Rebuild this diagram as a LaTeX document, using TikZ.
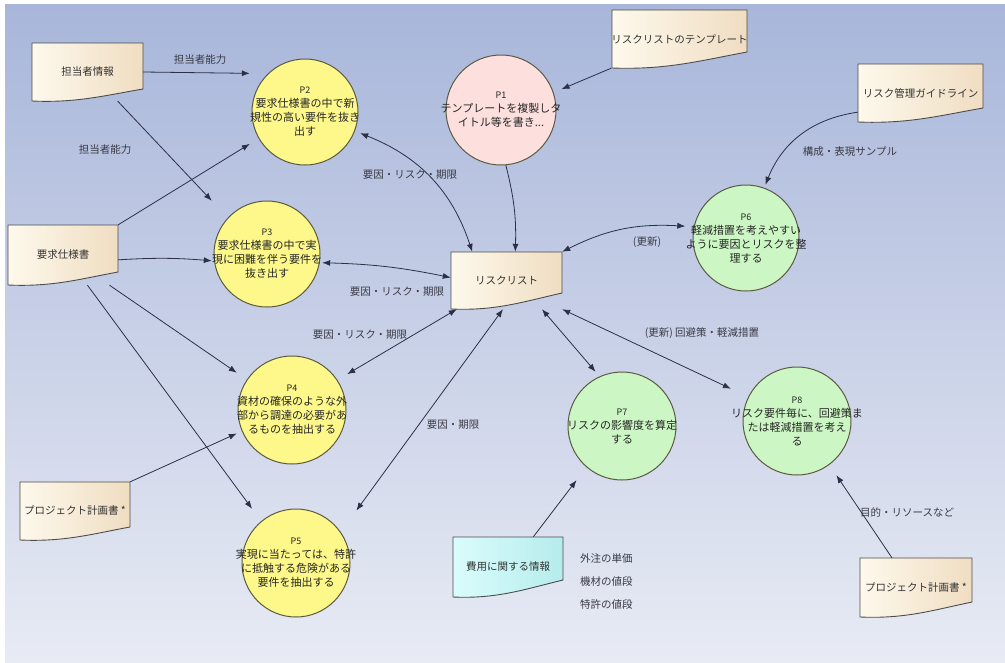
\documentclass[tikz,border=0pt]{standalone}
\usepackage{fontspec}
\setmainfont{Noto Sans CJK JP}
\usetikzlibrary{arrows.meta,calc}
\definecolor{bgtop}{HTML}{A8B6DA}
\definecolor{bgmid}{HTML}{C9D1E9}
\definecolor{bgbot}{HTML}{E8EBF4}
\definecolor{yel}{HTML}{FDF889}
\definecolor{pinkf}{HTML}{FDE0DD}
\definecolor{grn}{HTML}{CCF7C4}
\definecolor{docL}{HTML}{FDF9EC}
\definecolor{docR}{HTML}{F0DDC2}
\definecolor{cyL}{HTML}{DAFCFC}
\definecolor{cyR}{HTML}{B6ECEC}
\definecolor{edgec}{HTML}{2B3048}
\definecolor{lbl}{HTML}{3A3A44}
\definecolor{cborder}{HTML}{5A5A40}
\tikzset{
  con/.style={draw=edgec, line width=0.8pt, -{Latex[length=8pt,width=6pt]}},
  bicon/.style={draw=edgec, line width=0.8pt, {Latex[length=8pt,width=6pt]}-{Latex[length=8pt,width=6pt]}},
  lab/.style={text=lbl, font=\fontsize{10.5}{12}\selectfont, inner sep=1pt},
  procbox/.style={rectangle, inner sep=0pt, minimum size=#1, align=center, text=black!85, font=\fontsize{11}{14}\selectfont},
  docbox/.style={rectangle, inner sep=0pt, text=black!80, font=\fontsize{10.5}{12}\selectfont},
  docline/.style={draw=black!70, line width=0.9pt},
  circ/.style={draw=cborder, line width=1pt},
}
\newcommand\procnode[6]{%
  \draw[circ, fill=#5] (#2,#3) circle[radius=#4pt];
  \node[procbox={2*#4}] (#1) at (#2,#3) {#6};
}
\newcommand\docnode[9]{%
  \draw[docline, left color=#7, right color=#8] (#2,#3) -- (#4,#3) -- (#4,#6)
    .. controls ({#4-0.35*(#4-#2)},{#6+0.55*(#5-#6)}) and ({#2+0.4*(#4-#2)},{#5+2}) .. (#2,#5) -- cycle;
  \node[docbox, minimum width={#4-#2}, minimum height={#5-#3}] (#1) at ({(#2+#4)/2},{(#3+#5)/2}) {#9};
}
\newcommand\pl[1]{{\fontsize{9}{11}\selectfont #1}}
\begin{document}
\begin{tikzpicture}[x=1pt,y=-1pt]
\useasboundingbox (0,0) rectangle (1005,662);
\fill[white] (0,0) rectangle (1005,662);
\shade[top color=bgtop, middle color=bgmid, bottom color=bgbot] (5,4) rectangle (1005,662);

% documents
\docnode{tanto}{32}{43}{143}{101}{89}{docL}{docR}{担当者情報}
\docnode{yokyu}{8}{225}{118}{285}{272}{docL}{docR}{要求仕様書}
\docnode{pjL}{20}{482}{130}{540}{527}{docL}{docR}{プロジェクト計画書 *}
\docnode{rl}{451}{252}{562}{309}{293}{docL}{docR}{リスクリスト}
\docnode{tmpl}{612}{10}{747}{68}{52}{docL}{docR}{リスクリストのテンプレート}
\docnode{guide}{858}{64}{983}{122}{108}{docL}{docR}{リスク管理ガイドライン}
\docnode{hiyo}{453}{537}{563}{597}{580}{cyL}{cyR}{費用に関する情報}
\docnode{pjR}{860}{558}{972}{617}{602}{docL}{docR}{プロジェクト計画書 *}

% processes
\procnode{P1}{501}{110}{55}{pinkf}{\pl{P1}\\テンプレートを複製しタ\\イトル等を書き...}
\procnode{P2}{305}{112}{53}{yel}{\pl{P2}\\要求仕様書の中で新\\規性の高い要件を抜き\\出す}
\procnode{P3}{267}{254}{53}{yel}{\pl{P3}\\要求仕様書の中で実\\現に困難を伴う要件を\\抜き出す}
\procnode{P4}{292}{410}{54}{yel}{\pl{P4}\\資材の確保のような外\\部から調達の必要があ\\るものを抽出する}
\procnode{P5}{296}{563}{54}{yel}{\pl{P5}\\実現に当たっては、特許\\に抵触する危険がある\\要件を抽出する}
\procnode{P6}{746}{238}{53}{grn}{\pl{P6}\\軽減措置を考えやすい\\ように要因とリスクを整\\理する}
\procnode{P7}{622}{426}{54}{grn}{\pl{P7}\\リスクの影響度を算定\\する}
\procnode{P8}{797}{421}{54}{grn}{\pl{P8}\\リスク要件毎に、回避策ま\\たは軽減措置を考え\\る}

% connectors
\draw[con] (tanto.east) -- (P2.145);
\draw[con] (tanto.-44.5) -- (P3.north west);
\draw[con] (yokyu.north east) -- (P2.210);
\draw[con] (yokyu.-5) to[bend left=4] (P3.187.5);
\draw[con] (yokyu.-33.7) -- (P4.146);
\draw[con] (yokyu.-51.3) -- (P5.129.2);
\draw[con] (pjL.north east) -- (P4.203);
\draw[bicon] (P2.-21) to[bend left=25] (rl.140);
\draw[bicon] (P3.-9) to[bend left=5] (rl.177.4);
\draw[bicon] (P4.33) -- (rl.210);
\draw[bicon] (P5.41.6) -- (rl.-97);
\draw[con] (P1.-85) to[bend left=8] (rl.73.4);
\draw[con] (tmpl.south west) -- (P1.19);
\draw[con] (guide.197) to[bend right=30] (P6.70);
\draw[bicon] (rl.north east) to[bend left=15] (P6.169.3);
\draw[bicon] (rl.-39.3) -- (P7.116.6);
\draw[bicon] (rl.south east) -- (P8.154.3);
\draw[con] (hiyo.50.2) -- (P7.230.2);
\draw[con] (pjR.129) -- (P8.-54.9);

% labels
\node[lab] (l1) at (200,60) {担当者能力};
\node[lab] (l2) at (105,150) {担当者能力};
\node[lab] (l3) at (410,175) {要因・リスク・期限};
\node[lab] (l4) at (397,292) {要因・リスク・期限};
\node[lab] (l5) at (360,335) {要因・リスク・期限};
\node[lab] (l6) at (453,425) {要因・期限};
\node[lab] (l7) at (850,152) {構成・表現サンプル};
\node[lab] (l8) at (647,242) {(更新)};
\node[lab] (l9) at (702,333) {(更新) 回避策・軽減措置};
\node[lab] (l10) at (907,512) {目的・リソースなど};
\node[lab, anchor=west] (n1) at (579,558) {外注の単価};
\node[lab, anchor=west] (n2) at (579,582) {機材の値段};
\node[lab, anchor=west] (n3) at (579,605) {特許の値段};
\end{tikzpicture}
\end{document}
